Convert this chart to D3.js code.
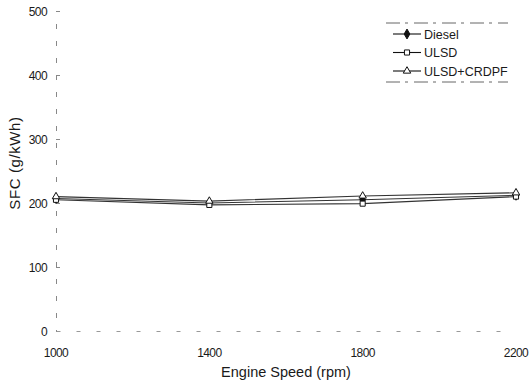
<!DOCTYPE html>
<html><head><meta charset="utf-8">
<script src="https://cdn.jsdelivr.net/npm/d3@7"></script>
<style>body{margin:0;background:#fff}svg{display:block}text{font-family:"Liberation Sans",Arial,sans-serif;fill:#1a1a1a}</style>
</head><body>
<script>
const speeds = [1000, 1400, 1800, 2200];
const diesel = [207, 200, 205, 212];
const ulsd = [205, 197, 199, 210];
const ulsdCrdpf = [210, 203, 211, 216];
const seriesNames = ["Diesel", "ULSD", "ULSD+CRDPF"];
const yTicks = [0, 100, 200, 300, 400, 500];
const xTicks = [1000, 1400, 1800, 2200];

const W = 532, H = 386;
const svg = d3.select("body").append("svg").attr("width", W).attr("height", H);
const x = d3.scaleLinear().domain([1000, 2200]).range([56, 516]);
const y = d3.scaleLinear().domain([0, 500]).range([331, 11]);

// y axis
const yAx = svg.append("g").attr("transform", "translate(56,0)")
  .call(d3.axisRight(y).tickValues(yTicks).tickSize(4).tickFormat(""));
yAx.select(".domain").attr("stroke", "#888").attr("stroke-dasharray", "5,12");
yAx.selectAll(".tick line").attr("stroke", "#888");
svg.append("g").selectAll("text").data(yTicks).join("text")
  .attr("x", 47).attr("y", d => y(d) + 4.5).attr("text-anchor", "end")
  .attr("font-size", 12).attr("letter-spacing", -0.6).text(d => d);

// x axis
const xAx = svg.append("g").attr("transform", "translate(0,331)")
  .call(d3.axisBottom(x).tickValues(xTicks).tickSize(0).tickFormat(""));
xAx.select(".domain").attr("stroke", "#999").attr("stroke-dasharray", "4,16");
svg.append("g").selectAll("text").data(xTicks).join("text")
  .attr("x", d => x(d)).attr("y", 357).attr("text-anchor", "middle")
  .attr("font-size", 12).attr("letter-spacing", -0.6).text(d => d);

svg.append("text").attr("x", 286).attr("y", 377).attr("text-anchor", "middle")
  .attr("font-size", 14.5).text("Engine Speed (rpm)");
svg.append("text").attr("transform", "translate(20,163) rotate(-90)")
  .attr("text-anchor", "middle").attr("font-size", 15).attr("letter-spacing", 0.6).text("SFC (g/kWh)");

const all = [diesel, ulsd, ulsdCrdpf];
const line = d3.line().x((d, i) => x(speeds[i])).y(d => y(d));
const shapes = [d3.symbolDiamond, d3.symbolSquare, d3.symbolTriangle];
const fills = ["#111", "#fff", "#fff"];
const sizes = [28, 26, 24];

all.forEach((vals, k) => {
  svg.append("path").datum(vals).attr("d", line)
    .attr("fill", "none").attr("stroke", "#333").attr("stroke-width", 1.1);
});
all.forEach((vals, k) => {
  svg.append("g").selectAll("path").data(vals).join("path")
    .attr("transform", (d, i) => `translate(${x(speeds[i])},${y(d)})`)
    .attr("d", d3.symbol().type(shapes[k]).size(sizes[k]))
    .attr("fill", fills[k]).attr("stroke", "#111").attr("stroke-width", 1);
});

// legend
const lg = svg.append("g");
lg.append("line").attr("x1", 386).attr("x2", 508).attr("y1", 23).attr("y2", 23)
  .attr("stroke", "#666").attr("stroke-dasharray", "14,5,3,6");
lg.append("line").attr("x1", 386).attr("x2", 508).attr("y1", 82).attr("y2", 82)
  .attr("stroke", "#666").attr("stroke-dasharray", "14,5,3,6");
seriesNames.forEach((n, k) => {
  const yy = 34 + k * 18.5;
  lg.append("line").attr("x1", 393).attr("x2", 421).attr("y1", yy).attr("y2", yy)
    .attr("stroke", "#111").attr("stroke-width", 1.1);
  lg.append("path").attr("transform", `translate(407,${yy})`)
    .attr("d", d3.symbol().type(shapes[k]).size(sizes[k]))
    .attr("fill", fills[k]).attr("stroke", "#111");
  lg.append("text").attr("x", 424).attr("y", yy + 4.5).attr("font-size", 12.5).text(n);
});
</script>
</body></html>
